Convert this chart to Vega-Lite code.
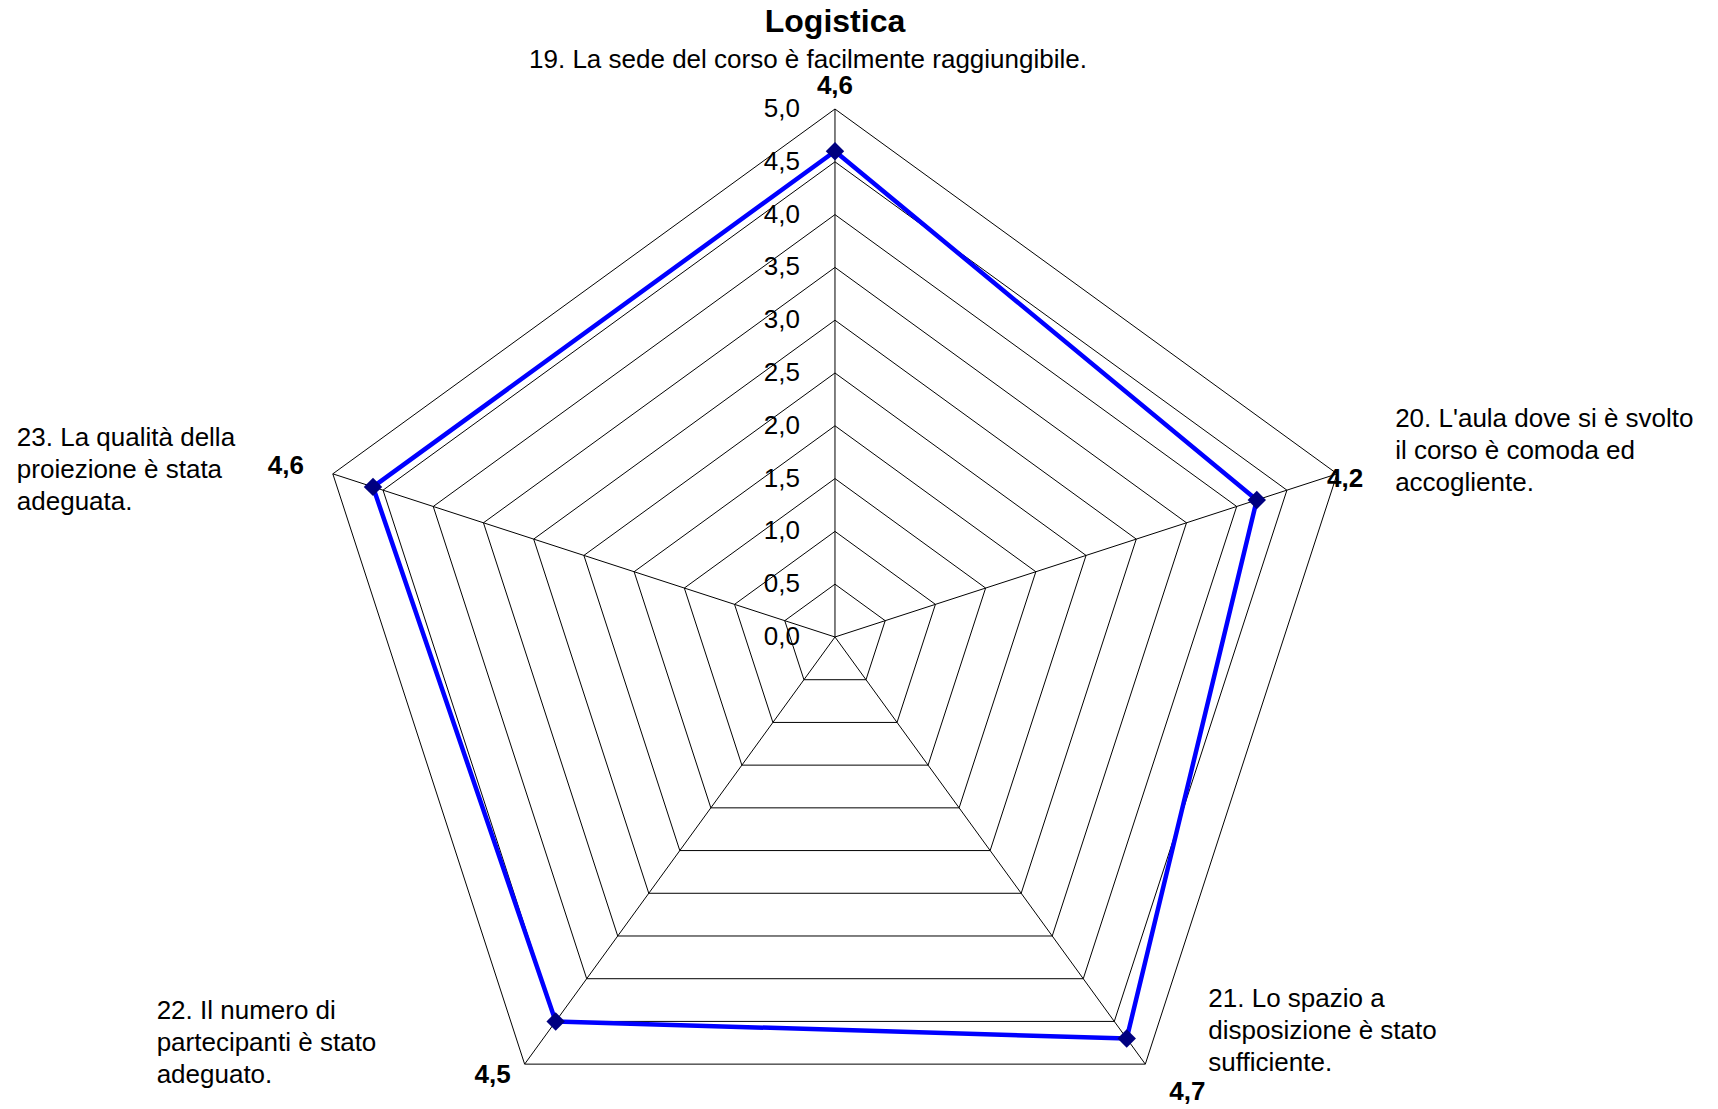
{
  "$schema": "https://vega.github.io/schema/vega-lite/v6.json",
  "width": 1718,
  "height": 1059,
  "autosize": {"type": "none"},
  "padding": {"top": 50, "left": 0, "right": 0, "bottom": 0},
  "background": "white",
  "title": {"text": "Logistica", "font": "Liberation Sans", "fontSize": 32, "fontWeight": "bold", "color": "black", "anchor": "middle", "dx": -24, "dy": 34, "baseline": "alphabetic", "offset": 17},
  "config": {
    "view": {"stroke": null},
    "locale": {"number": {"decimal": ",", "thousands": ".", "grouping": [3], "currency": ["", " €"]}}
  },
  "datasets": {
    "scores": [
      {"k": 0, "q": "19. La sede del corso è facilmente raggiungibile.", "v": 4.6},
      {"k": 1, "q": "20. L'aula dove si è svolto\nil corso è comoda ed\naccogliente.", "v": 4.2},
      {"k": 2, "q": "21. Lo spazio a\ndisposizione è stato\nsufficiente.", "v": 4.7},
      {"k": 3, "q": "22. Il numero di\npartecipanti è stato\nadeguato.", "v": 4.5},
      {"k": 4, "q": "23. La qualità della\nproiezione è stata\nadeguata.", "v": 4.6}
    ],
    "levels": [
      {"lv": 0.0, "ks": [0, 1, 2, 3, 4]},
      {"lv": 0.5, "ks": [0, 1, 2, 3, 4]},
      {"lv": 1.0, "ks": [0, 1, 2, 3, 4]},
      {"lv": 1.5, "ks": [0, 1, 2, 3, 4]},
      {"lv": 2.0, "ks": [0, 1, 2, 3, 4]},
      {"lv": 2.5, "ks": [0, 1, 2, 3, 4]},
      {"lv": 3.0, "ks": [0, 1, 2, 3, 4]},
      {"lv": 3.5, "ks": [0, 1, 2, 3, 4]},
      {"lv": 4.0, "ks": [0, 1, 2, 3, 4]},
      {"lv": 4.5, "ks": [0, 1, 2, 3, 4]},
      {"lv": 5.0, "ks": [0, 1, 2, 3, 4]}
    ]
  },
  "layer": [
    {
      "data": {"name": "levels"},
      "transform": [
        {"filter": "datum.lv > 0"},
        {"flatten": ["ks"], "as": ["k"]},
        {"calculate": "datum.lv * sin(datum.k * 2 * PI / 5)", "as": "px"},
        {"calculate": "datum.lv * cos(datum.k * 2 * PI / 5)", "as": "py"}
      ],
      "mark": {"type": "line", "interpolate": "linear-closed", "color": "black", "strokeWidth": 1},
      "encoding": {
        "x": {"field": "px", "type": "quantitative", "scale": {"domain": [-7.907, 8.362], "nice": false, "zero": false}, "axis": null},
        "y": {"field": "py", "type": "quantitative", "scale": {"domain": [-4.47, 5.559], "nice": false, "zero": false}, "axis": null},
        "detail": {"field": "lv"},
        "order": {"field": "k"}
      }
    },
    {
      "data": {"name": "scores"},
      "transform": [
        {"calculate": "5 * sin(datum.k * 2 * PI / 5)", "as": "px"},
        {"calculate": "5 * cos(datum.k * 2 * PI / 5)", "as": "py"},
        {"calculate": "0 * datum.v", "as": "cx"}
      ],
      "mark": {"type": "rule", "color": "black", "strokeWidth": 1},
      "encoding": {
        "x": {"field": "cx", "type": "quantitative"},
        "y": {"field": "cx", "type": "quantitative"},
        "x2": {"field": "px"},
        "y2": {"field": "py"}
      }
    },
    {
      "data": {"name": "scores"},
      "transform": [
        {"calculate": "datum.v * sin(datum.k * 2 * PI / 5)", "as": "px"},
        {"calculate": "datum.v * cos(datum.k * 2 * PI / 5)", "as": "py"}
      ],
      "mark": {"type": "line", "interpolate": "linear-closed", "color": "#0000FF", "strokeWidth": 4.5, "strokeJoin": "round"},
      "encoding": {
        "x": {"field": "px", "type": "quantitative"},
        "y": {"field": "py", "type": "quantitative"},
        "order": {"field": "k"}
      }
    },
    {
      "data": {"name": "scores"},
      "transform": [
        {"calculate": "datum.v * sin(datum.k * 2 * PI / 5)", "as": "px"},
        {"calculate": "datum.v * cos(datum.k * 2 * PI / 5)", "as": "py"}
      ],
      "mark": {"type": "point", "shape": "diamond", "filled": true, "color": "#000080", "size": 340, "opacity": 1},
      "encoding": {
        "x": {"field": "px", "type": "quantitative"},
        "y": {"field": "py", "type": "quantitative"}
      }
    },
    {
      "data": {"name": "levels"},
      "transform": [{"calculate": "0 * datum.lv", "as": "px"}],
      "mark": {"type": "text", "align": "right", "baseline": "middle", "dx": -35, "font": "Liberation Sans", "fontSize": 26, "color": "black"},
      "encoding": {
        "x": {"field": "px", "type": "quantitative"},
        "y": {"field": "lv", "type": "quantitative"},
        "text": {"field": "lv", "type": "quantitative", "format": ".1f"}
      }
    },
    {
      "data": {"name": "scores"},
      "transform": [
        {"filter": "datum.k == 0"},
        {"calculate": "5 * sin(datum.k * 2 * PI / 5)", "as": "px"},
        {"calculate": "5 * cos(datum.k * 2 * PI / 5)", "as": "py"}
      ],
      "layer": [
        {"mark": {"type": "text", "align": "center", "baseline": "alphabetic", "dx": 0, "dy": -15, "font": "Liberation Sans", "fontSize": 26, "fontWeight": "bold", "color": "black"},
         "encoding": {"x": {"field": "px", "type": "quantitative"}, "y": {"field": "py", "type": "quantitative"}, "text": {"field": "v", "type": "quantitative", "format": ".1f"}}},
        {"mark": {"type": "text", "align": "center", "baseline": "alphabetic", "dx": -27, "dy": -41, "lineBreak": "\n", "lineHeight": 32, "font": "Liberation Sans", "fontSize": 26, "color": "black"},
         "encoding": {"x": {"field": "px", "type": "quantitative"}, "y": {"field": "py", "type": "quantitative"}, "text": {"field": "q"}}}
      ]
    },
    {
      "data": {"name": "scores"},
      "transform": [
        {"filter": "datum.k == 1"},
        {"calculate": "5 * sin(datum.k * 2 * PI / 5)", "as": "px"},
        {"calculate": "5 * cos(datum.k * 2 * PI / 5)", "as": "py"}
      ],
      "layer": [
        {"mark": {"type": "text", "align": "center", "baseline": "alphabetic", "dx": 8, "dy": 13, "font": "Liberation Sans", "fontSize": 26, "fontWeight": "bold", "color": "black"},
         "encoding": {"x": {"field": "px", "type": "quantitative"}, "y": {"field": "py", "type": "quantitative"}, "text": {"field": "v", "type": "quantitative", "format": ".1f"}}},
        {"mark": {"type": "text", "align": "left", "baseline": "alphabetic", "dx": 58, "dy": -47, "lineBreak": "\n", "lineHeight": 32, "font": "Liberation Sans", "fontSize": 26, "color": "black"},
         "encoding": {"x": {"field": "px", "type": "quantitative"}, "y": {"field": "py", "type": "quantitative"}, "text": {"field": "q"}}}
      ]
    },
    {
      "data": {"name": "scores"},
      "transform": [
        {"filter": "datum.k == 2"},
        {"calculate": "5 * sin(datum.k * 2 * PI / 5)", "as": "px"},
        {"calculate": "5 * cos(datum.k * 2 * PI / 5)", "as": "py"}
      ],
      "layer": [
        {"mark": {"type": "text", "align": "center", "baseline": "alphabetic", "dx": 42, "dy": 36, "font": "Liberation Sans", "fontSize": 26, "fontWeight": "bold", "color": "black"},
         "encoding": {"x": {"field": "px", "type": "quantitative"}, "y": {"field": "py", "type": "quantitative"}, "text": {"field": "v", "type": "quantitative", "format": ".1f"}}},
        {"mark": {"type": "text", "align": "left", "baseline": "alphabetic", "dx": 63, "dy": -57, "lineBreak": "\n", "lineHeight": 32, "font": "Liberation Sans", "fontSize": 26, "color": "black"},
         "encoding": {"x": {"field": "px", "type": "quantitative"}, "y": {"field": "py", "type": "quantitative"}, "text": {"field": "q"}}}
      ]
    },
    {
      "data": {"name": "scores"},
      "transform": [
        {"filter": "datum.k == 3"},
        {"calculate": "5 * sin(datum.k * 2 * PI / 5)", "as": "px"},
        {"calculate": "5 * cos(datum.k * 2 * PI / 5)", "as": "py"}
      ],
      "layer": [
        {"mark": {"type": "text", "align": "center", "baseline": "alphabetic", "dx": -32, "dy": 19, "font": "Liberation Sans", "fontSize": 26, "fontWeight": "bold", "color": "black"},
         "encoding": {"x": {"field": "px", "type": "quantitative"}, "y": {"field": "py", "type": "quantitative"}, "text": {"field": "v", "type": "quantitative", "format": ".1f"}}},
        {"mark": {"type": "text", "align": "left", "baseline": "alphabetic", "dx": -368, "dy": -45, "lineBreak": "\n", "lineHeight": 32, "font": "Liberation Sans", "fontSize": 26, "color": "black"},
         "encoding": {"x": {"field": "px", "type": "quantitative"}, "y": {"field": "py", "type": "quantitative"}, "text": {"field": "q"}}}
      ]
    },
    {
      "data": {"name": "scores"},
      "transform": [
        {"filter": "datum.k == 4"},
        {"calculate": "5 * sin(datum.k * 2 * PI / 5)", "as": "px"},
        {"calculate": "5 * cos(datum.k * 2 * PI / 5)", "as": "py"}
      ],
      "layer": [
        {"mark": {"type": "text", "align": "center", "baseline": "alphabetic", "dx": -47, "dy": 0, "font": "Liberation Sans", "fontSize": 26, "fontWeight": "bold", "color": "black"},
         "encoding": {"x": {"field": "px", "type": "quantitative"}, "y": {"field": "py", "type": "quantitative"}, "text": {"field": "v", "type": "quantitative", "format": ".1f"}}},
        {"mark": {"type": "text", "align": "left", "baseline": "alphabetic", "dx": -316, "dy": -28, "lineBreak": "\n", "lineHeight": 32, "font": "Liberation Sans", "fontSize": 26, "color": "black"},
         "encoding": {"x": {"field": "px", "type": "quantitative"}, "y": {"field": "py", "type": "quantitative"}, "text": {"field": "q"}}}
      ]
    }
  ]
}
